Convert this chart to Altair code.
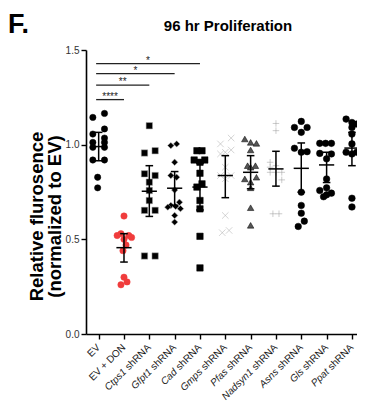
import altair as alt
import pandas as pd

# ---------------- data ----------------
categories = ["EV", "EV + DON", "Ctps1 shRNA", "Gfpt1 shRNA", "Cad shRNA", "Gmps shRNA",
              "Pfas shRNA", "Nadsyn1 shRNA", "Asns shRNA", "Gls shRNA", "Ppat shRNA"]
gene_names = ["", "", "Ctps1", "Gfpt1", "Cad", "Gmps", "Pfas", "Nadsyn1", "Asns", "Gls", "Ppat"]
plain_parts = ["EV", "EV + DON", "shRNA", "shRNA", "shRNA", "shRNA", "shRNA", "shRNA",
               "shRNA", "shRNA", "shRNA"]

ev_vals = [1.165, 1.144, 1.083, 1.056, 1.035, 1.012, 1.012, 0.986, 0.986, 0.919, 0.919, 0.828, 0.772]
ev_dx = [0.23, -0.23, 0.23, -0.23, 0.23, -0.23, 0.23, -0.23, 0.23, -0.23, 0.23, -0.04, -0.04]
don_vals = [0.623, 0.53, 0.52, 0.52, 0.51, 0.50, 0.47, 0.44, 0.30, 0.275, 0.26]
don_dx = [0, -0.12, -0.27, 0.19, 0.3, 0, 0.08, -0.04, 0, 0.12, -0.12]
ctps1_vals = [1.10, 0.968, 0.956, 0.846, 0.837, 0.802, 0.758, 0.705, 0.653, 0.653, 0.412, 0.412]
ctps1_dx = [0, 0.23, -0.19, -0.19, 0.23, 0, 0, 0, -0.19, 0.23, -0.19, 0.23]
gfpt1_vals = [1.004, 0.995, 0.907, 0.837, 0.828, 0.761, 0.696, 0.679, 0.674, 0.670, 0.662, 0.626, 0.591]
gfpt1_dx = [0.08, -0.15, 0, -0.15, 0.08, 0, 0.19, -0.15, 0.04, -0.27, 0.23, 0, 0]
cad_vals = [0.968, 0.968, 0.919, 0.919, 0.907, 0.849, 0.793, 0.776, 0.705, 0.661, 0.516, 0.349]
cad_dx = [-0.12, 0.08, -0.23, 0.19, 0, 0, 0.08, -0.12, 0, 0, 0, 0]
gmps_vals = [1.035, 1.004, 0.972, 0.960, 0.951, 0.881, 0.837, 0.837, 0.820, 0.626, 0.547, 0.535]
gmps_dx = [0.23, -0.19, 0.23, 0, -0.19, 0, -0.19, 0.23, 0, 0, 0.15, -0.12]
pfas_vals = [1.030, 1.012, 1.007, 0.972, 0.889, 0.889, 0.881, 0.828, 0.819, 0.802, 0.772, 0.667, 0.574]
pfas_dx = [-0.23, 0, 0.23, 0, -0.12, 0.19, 0, 0.23, -0.23, 0, 0, 0, 0]
nadsyn1_vals = [1.112, 1.074, 0.907, 0.889, 0.881, 0.854, 0.854, 0.854, 0.814, 0.635, 0.635]
nadsyn1_dx = [0, 0, -0.23, 0, -0.23, -0.23, 0, 0.23, 0.23, -0.12, 0.12]
asns_vals = [1.123, 1.091, 1.091, 1.065, 0.981, 0.963, 0.960, 0.749, 0.679, 0.638, 0.596, 0.568]
asns_dx = [0, -0.27, 0.23, 0, -0.27, 0.23, 0, 0, 0, 0, 0.12, -0.12]
gls_vals = [1.007, 1.007, 1.007, 0.954, 0.951, 0.925, 0.819, 0.772, 0.758, 0.744, 0.735, 0.725]
gls_dx = [-0.27, -0.04, 0.19, -0.27, 0.19, 0, 0, 0, -0.27, 0.19, 0, -0.12]
ppat_vals = [1.135, 1.117, 1.109, 1.091, 1.056, 1.004, 0.960, 0.960, 0.951, 0.717, 0.671]
ppat_dx = [-0.23, 0, 0.19, 0, 0, 0, -0.23, 0.19, 0, 0, 0]

means = [0.99, 0.456, 0.754, 0.77, 0.776, 0.837, 0.854, 0.872, 0.875, 0.893, 0.982]
err_lo = [0.915, 0.38, 0.621, 0.68, 0.655, 0.72, 0.767, 0.781, 0.749, 0.80, 0.889]
err_hi = [1.065, 0.53, 0.889, 0.858, 0.90, 0.942, 0.942, 0.965, 1.009, 0.96, 1.065]

sig_levels = [1.428, 1.375, 1.314, 1.238]
sig_end = [4, 3, 2, 1]
sig_stars = ["*", "*", "**", "****"]

title_text = "96 hr Proliferation"
panel_letter = "F."
y_title = ["Relative flurosence", "(normalized to EV)"]

# ---------------- styles ----------------
shape_range = ["circle", "circle", "square", "diamond", "square",
               "M-1,-1L1,1M-1,1L1,-1", "triangle-up", "M-1,0L1,0M0,-1L0,1",
               "circle", "circle", "circle"]
fill_range = ["#000000", "#f03c3c", "#000000", "#000000", "#000000", "transparent",
              "#555555", "transparent", "#000000", "#000000", "#000000"]
stroke_range = ["#000000", "#f03c3c", "#a8a8a8", "#a8a8a8", "#000000", "#a8a8a8",
                "#000000", "#999999", "#000000", "#000000", "#000000"]
sw_range = [0.5, 0.5, 1.8, 1.8, 0.5, 1.5, 0.9, 1.5, 0.5, 0.5, 0.5]
size_range = [40, 44, 26, 28, 40, 34, 44, 38, 50, 50, 50]

# ---------------- tables ----------------
groups = [ev_vals, don_vals, ctps1_vals, gfpt1_vals, cad_vals, gmps_vals, pfas_vals,
          nadsyn1_vals, asns_vals, gls_vals, ppat_vals]
offsets = [ev_dx, don_dx, ctps1_dx, gfpt1_dx, cad_dx, gmps_dx, pfas_dx, nadsyn1_dx,
           asns_dx, gls_dx, ppat_dx]
rows = []
for i, (vals, dxs) in enumerate(zip(groups, offsets)):
    for v, d in zip(vals, dxs):
        rows.append({"group": categories[i], "xpos": i + d, "value": v})
points = pd.DataFrame(rows)

summary = pd.DataFrame({"group": categories, "idx": list(range(len(categories))),
                        "mean": means, "lo": err_lo, "hi": err_hi})
summary["m1"] = summary["idx"] - 0.3
summary["m2"] = summary["idx"] + 0.3
summary["c1"] = summary["idx"] - 0.15
summary["c2"] = summary["idx"] + 0.15

sig = pd.DataFrame({"level": sig_levels, "end": sig_end, "stars": sig_stars})
sig["start"] = -0.1
sig["mid"] = (sig["start"] + sig["end"]) / 2

labels = pd.DataFrame({"idx": list(range(len(categories))), "gene": gene_names,
                       "plain": plain_parts})

FONT = "Liberation Sans"
xscale = alt.Scale(domain=[-0.5, 10.2], nice=False, zero=False)
yscale = alt.Scale(domain=[0, 1.5], nice=False)
xaxis = alt.Axis(values=list(range(11)), labels=False, title=None, tickSize=5, grid=False)
yaxis = alt.Axis(values=[0, 0.5, 1.0, 1.5], format=".1f", title=y_title, tickSize=5,
                 grid=False, titleFontSize=18.5, titleFontWeight="bold", titleFont=FONT,
                 titleColor="#000", titleAngle=270, titleX=-40, titleY=166,
                 titleLineHeight=18.5, titleAlign="center", titleBaseline="bottom")


def X(field):
    return alt.X(field, type="quantitative", scale=xscale, axis=xaxis)


def Y(field):
    return alt.Y(field, type="quantitative", scale=yscale, axis=yaxis)


pts = alt.Chart(points).mark_point(filled=False, opacity=1).encode(
    x=X("xpos"), y=Y("value"),
    shape=alt.Shape("group:N", scale=alt.Scale(domain=categories, range=shape_range), legend=None),
    fill=alt.Fill("group:N", scale=alt.Scale(domain=categories, range=fill_range), legend=None),
    stroke=alt.Stroke("group:N", scale=alt.Scale(domain=categories, range=stroke_range), legend=None),
    strokeWidth=alt.StrokeWidth("group:N", scale=alt.Scale(domain=categories, range=sw_range), legend=None),
    size=alt.Size("group:N", scale=alt.Scale(domain=categories, range=size_range), legend=None),
)

vbar = alt.Chart(summary).mark_rule(color="#000", strokeWidth=1.5).encode(
    x=X("idx"), y=Y("lo"), y2="hi")
mline = alt.Chart(summary).mark_rule(color="#000", strokeWidth=1.5).encode(
    x=X("m1"), x2="m2", y=Y("mean"))
cap_lo = alt.Chart(summary).mark_rule(color="#000", strokeWidth=1.5).encode(
    x=X("c1"), x2="c2", y=Y("lo"))
cap_hi = alt.Chart(summary).mark_rule(color="#000", strokeWidth=1.5).encode(
    x=X("c1"), x2="c2", y=Y("hi"))

sig_lines = alt.Chart(sig).mark_rule(color="#222", strokeWidth=1.3).encode(
    x=X("start"), x2="end", y=Y("level"))
sig_text = alt.Chart(sig).mark_text(font=FONT, fontSize=10, color="#222", baseline="alphabetic",
                                    dy=0).encode(
    x=X("mid"), y=Y("level"), text="stars")

lab_plain = alt.Chart(labels).mark_text(font=FONT, fontSize=10, color="#222", align="right",
                                        baseline="middle", angle=315).encode(
    x=X("idx"), y=alt.value(296), text="plain")
lab_gene = alt.Chart(labels).mark_text(font=FONT, fontSize=10, color="#222", align="right",
                                       baseline="middle", angle=315, fontStyle="italic",
                                       dx=-34.5).encode(
    x=X("idx"), y=alt.value(296), text="gene")

title_mark = alt.Chart(pd.DataFrame({"t": [title_text]})).mark_text(
    font=FONT, fontSize=15, fontWeight="bold", color="#000", align="center",
    baseline="alphabetic").encode(x=alt.value(142), y=alt.value(-19), text="t")
letter_mark = alt.Chart(pd.DataFrame({"t": [panel_letter]})).mark_text(
    font=FONT, fontSize=27, fontWeight="bold", color="#000", align="left",
    baseline="alphabetic").encode(x=alt.value(-78), y=alt.value(-17), text="t")

chart = alt.layer(pts, vbar, mline, cap_lo, cap_hi, sig_lines, sig_text, lab_plain, lab_gene,
                  title_mark, letter_mark).properties(
    width=271, height=284,
    autosize=alt.AutoSizeParams(type="none"),
    padding={"left": 78, "top": 42, "right": 0, "bottom": 67},
).configure_view(stroke=None).configure_axis(
    domainColor="#000", domainWidth=1.6, tickColor="#000", tickWidth=1.4,
    labelFont=FONT, labelFontSize=10, labelColor="#333", labelPadding=2,
)

chart.save("out.html", embed_options={"renderer": "svg", "actions": False})
